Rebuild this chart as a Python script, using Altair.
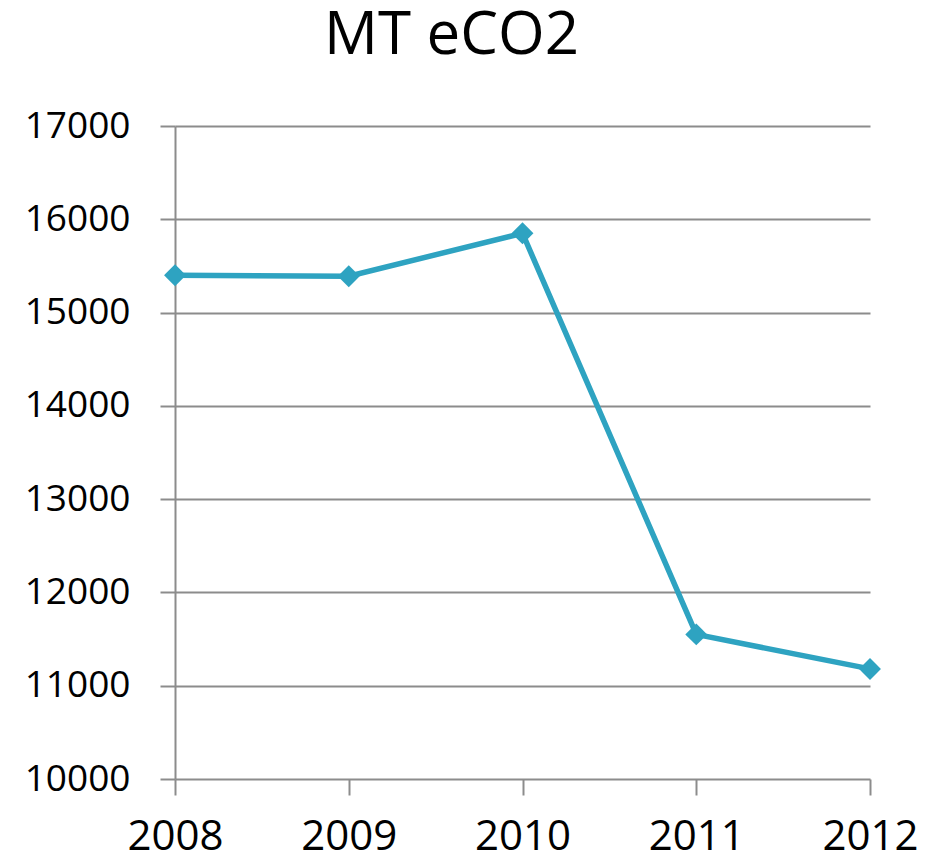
import altair as alt
import pandas as pd

years = [2008, 2009, 2010, 2011, 2012]
values = [15400, 15390, 15850, 11550, 11180]

df = pd.DataFrame({"year": years, "value": values})

FONT = "Open Sans"
LINE = "#2ea3c1"
GRID = "#8c8c8c"

x = alt.X("year:Q",
          scale=alt.Scale(domain=[2008, 2012], nice=False, zero=False),
          axis=alt.Axis(values=years, format="d", title=None, grid=False,
                        domain=False, tickColor=GRID, tickWidth=2, tickSize=16,
                        labelFontSize=42, labelFont=FONT, labelColor="#000",
                        labelPadding=21, labelFlush=False))
y = alt.Y("value:Q",
          scale=alt.Scale(domain=[10000, 17000], nice=False, zero=False),
          axis=alt.Axis(values=list(range(10000, 17001, 1000)), format="d", title=None,
                        grid=True, gridColor=GRID, gridWidth=2,
                        domain=True, domainColor=GRID, domainWidth=2,
                        tickColor=GRID, tickWidth=2, tickSize=15,
                        labelFontSize=37, labelFont=FONT, labelColor="#000",
                        labelPadding=30))

line = alt.Chart(df).mark_line(color=LINE, strokeWidth=5.5).encode(x=x, y=y)
pts = alt.Chart(df).mark_point(shape="diamond", filled=True, color=LINE,
                               size=480, opacity=1).encode(x=x, y=y)

chart = (line + pts).properties(
    width=695, height=653,
    title=alt.TitleParams("MT eCO2", fontSize=60, font=FONT, color="#000",
                          fontWeight="normal", anchor="middle", dx=-71, offset=40),
    autosize=alt.AutoSizeParams(type="none"),
    padding={"left": 167, "top": 118, "right": 50, "bottom": 75},
).configure_view(stroke=None)

chart.save("out.html", embed_options={"renderer": "svg", "actions": False})
